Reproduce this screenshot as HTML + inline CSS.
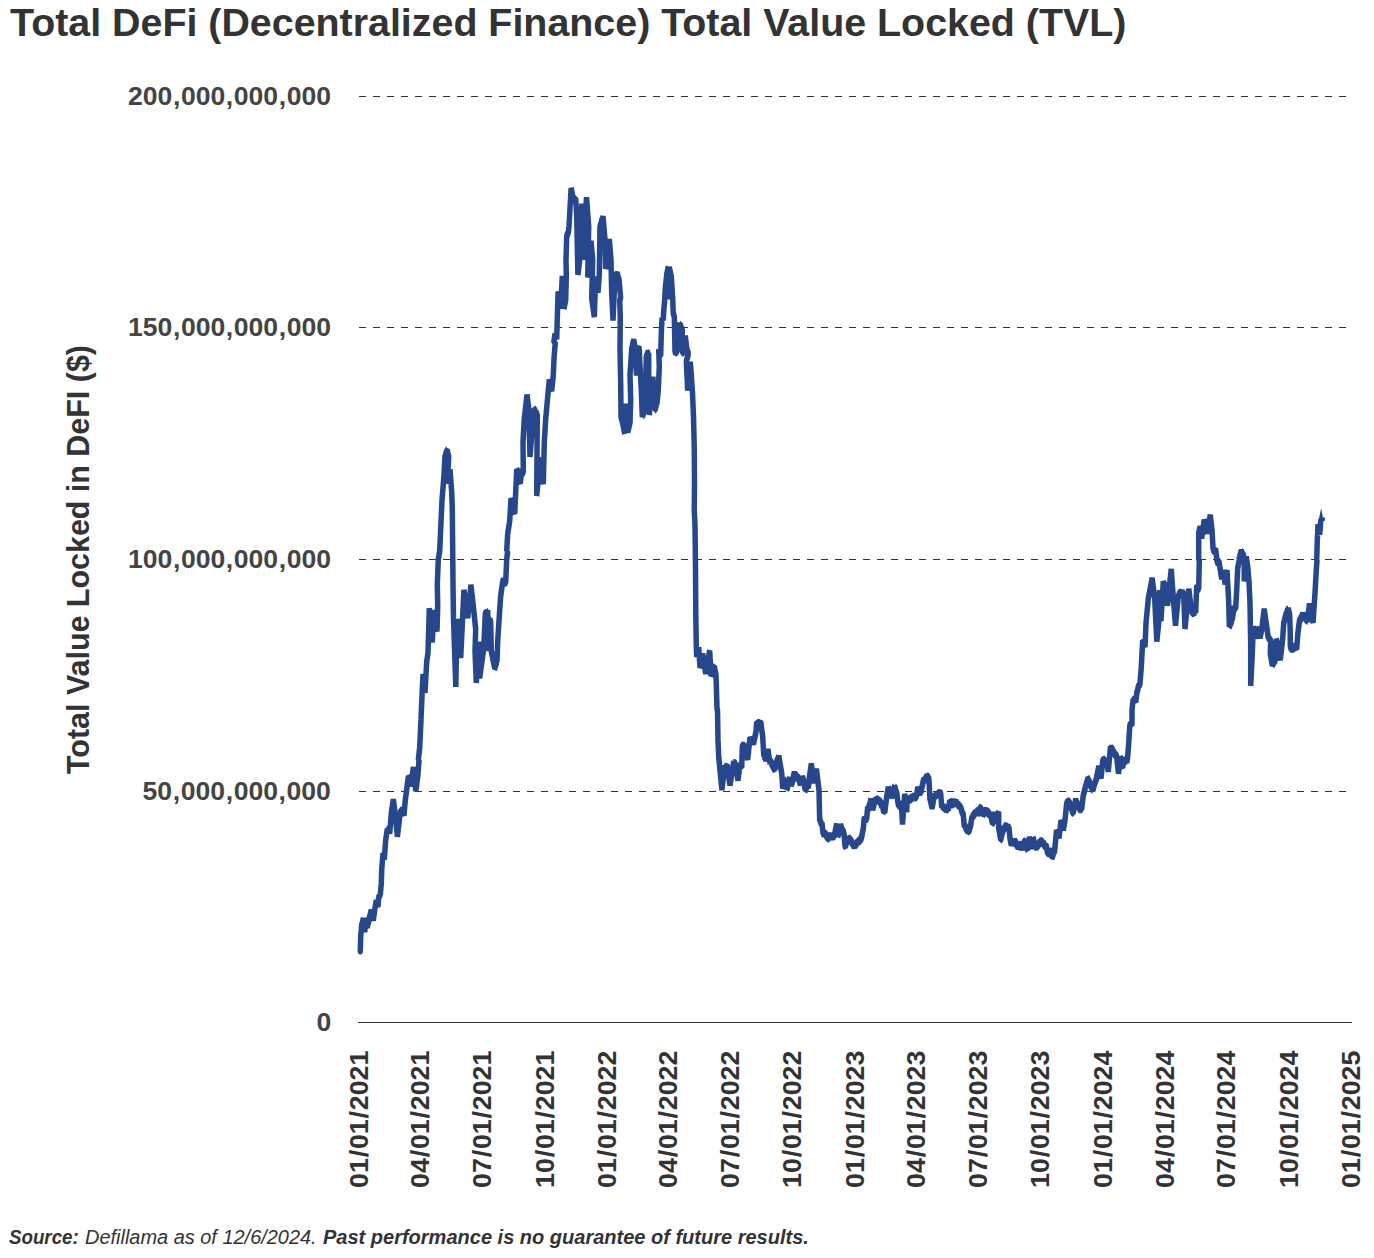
<!DOCTYPE html>
<html><head><meta charset="utf-8">
<style>
html,body{margin:0;padding:0;background:#fff;}
body{width:1374px;height:1258px;position:relative;overflow:hidden;font-family:"Liberation Sans",sans-serif;}
.t{position:absolute;white-space:nowrap;line-height:1;}
#title{left:9.5px;top:2.5px;font-size:39px;font-weight:bold;color:#333;transform-origin:0 0;transform:scaleX(1.0095);}
.c{margin:0 0.6px;}
.yl{font-size:25.5px;font-weight:bold;color:#444;right:1042.8px;transform-origin:100% 50%;transform:scaleX(1.041);}
.s{margin:0 0.8px;}
.xl{font-size:25.5px;font-weight:bold;color:#333;transform-origin:0 0;}
#ytitle{font-size:32px;font-weight:bold;color:#333;transform-origin:0 0;}
.src{top:1227.5px;font-size:19.5px;font-style:italic;color:#333;transform-origin:0 0;}
svg{position:absolute;left:0;top:0;}
</style></head><body>
<div class="t" id="title">Total DeFi (Decentralized Finance) Total Value Locked (TVL)</div>
<div class="t yl" style="top:84.4px">200<span class="c">,</span>000<span class="c">,</span>000<span class="c">,</span>000</div>
<div class="t yl" style="top:315.4px">150<span class="c">,</span>000<span class="c">,</span>000<span class="c">,</span>000</div>
<div class="t yl" style="top:547.4px">100<span class="c">,</span>000<span class="c">,</span>000<span class="c">,</span>000</div>
<div class="t yl" style="top:779.4px">50<span class="c">,</span>000<span class="c">,</span>000<span class="c">,</span>000</div>
<div class="t yl" style="top:1010.4px">0</div>
<div class="t xl" style="left:347.1px;top:1188.2px;transform:rotate(-90deg) scaleX(1.05)">01<span class="s">/</span>01<span class="s">/</span>2021</div>
<div class="t xl" style="left:408.2px;top:1188.2px;transform:rotate(-90deg) scaleX(1.05)">04<span class="s">/</span>01<span class="s">/</span>2021</div>
<div class="t xl" style="left:470.0px;top:1188.2px;transform:rotate(-90deg) scaleX(1.05)">07<span class="s">/</span>01<span class="s">/</span>2021</div>
<div class="t xl" style="left:532.5px;top:1188.2px;transform:rotate(-90deg) scaleX(1.05)">10<span class="s">/</span>01<span class="s">/</span>2021</div>
<div class="t xl" style="left:595.0px;top:1188.2px;transform:rotate(-90deg) scaleX(1.05)">01<span class="s">/</span>01<span class="s">/</span>2022</div>
<div class="t xl" style="left:656.1px;top:1188.2px;transform:rotate(-90deg) scaleX(1.05)">04<span class="s">/</span>01<span class="s">/</span>2022</div>
<div class="t xl" style="left:717.9px;top:1188.2px;transform:rotate(-90deg) scaleX(1.05)">07<span class="s">/</span>01<span class="s">/</span>2022</div>
<div class="t xl" style="left:780.3px;top:1188.2px;transform:rotate(-90deg) scaleX(1.05)">10<span class="s">/</span>01<span class="s">/</span>2022</div>
<div class="t xl" style="left:842.8px;top:1188.2px;transform:rotate(-90deg) scaleX(1.05)">01<span class="s">/</span>01<span class="s">/</span>2023</div>
<div class="t xl" style="left:903.9px;top:1188.2px;transform:rotate(-90deg) scaleX(1.05)">04<span class="s">/</span>01<span class="s">/</span>2023</div>
<div class="t xl" style="left:965.7px;top:1188.2px;transform:rotate(-90deg) scaleX(1.05)">07<span class="s">/</span>01<span class="s">/</span>2023</div>
<div class="t xl" style="left:1028.2px;top:1188.2px;transform:rotate(-90deg) scaleX(1.05)">10<span class="s">/</span>01<span class="s">/</span>2023</div>
<div class="t xl" style="left:1090.7px;top:1188.2px;transform:rotate(-90deg) scaleX(1.05)">01<span class="s">/</span>01<span class="s">/</span>2024</div>
<div class="t xl" style="left:1152.5px;top:1188.2px;transform:rotate(-90deg) scaleX(1.05)">04<span class="s">/</span>01<span class="s">/</span>2024</div>
<div class="t xl" style="left:1214.2px;top:1188.2px;transform:rotate(-90deg) scaleX(1.05)">07<span class="s">/</span>01<span class="s">/</span>2024</div>
<div class="t xl" style="left:1276.7px;top:1188.2px;transform:rotate(-90deg) scaleX(1.05)">10<span class="s">/</span>01<span class="s">/</span>2024</div>
<div class="t xl" style="left:1339.2px;top:1188.2px;transform:rotate(-90deg) scaleX(1.05)">01<span class="s">/</span>01<span class="s">/</span>2025</div>
<div class="t" id="ytitle" style="left:62px;top:774px;transform:rotate(-90deg) scaleX(0.951)">Total Value Locked in DeFI ($)</div>
<div class="t src" style="left:9px;transform:scaleX(0.96);font-weight:bold">Source:</div>
<div class="t src" style="left:84.5px;transform:scaleX(1.0225)">Defillama as of 12/6/2024.</div>
<div class="t src" style="left:323px;transform:scaleX(1.026);font-weight:bold">Past performance is no guarantee of future results.</div>
<svg width="1374" height="1258" viewBox="0 0 1374 1258">
<line x1="359" y1="96.5" x2="1352" y2="96.5" stroke="#333" stroke-width="1" stroke-dasharray="7 7" shape-rendering="crispEdges"/>
<line x1="359" y1="327.5" x2="1352" y2="327.5" stroke="#333" stroke-width="1" stroke-dasharray="7 7" shape-rendering="crispEdges"/>
<line x1="359" y1="559.5" x2="1352" y2="559.5" stroke="#333" stroke-width="1" stroke-dasharray="7 7" shape-rendering="crispEdges"/>
<line x1="359" y1="791.5" x2="1352" y2="791.5" stroke="#333" stroke-width="1" stroke-dasharray="7 7" shape-rendering="crispEdges"/>
<line x1="358" y1="1022.5" x2="1352" y2="1022.5" stroke="#333" stroke-width="1" shape-rendering="crispEdges"/>
<g transform="scale(1,1.65)"><path d="M360.3,575.76 360.7,567.7 361.7,560.61 361.9,560.12 362.1,559.76 362.3,559.58 362.5,559.09 362.7,558.61 362.9,558.18 363.1,557.45 363.3,557.09 364.7,564.67 366.3,556.55 367.3,561.64 371.2,552 373.3,557.58 374.7,551.52 376.3,545.94 376.5,546.36 376.7,546.91 376.9,547.52 377.1,547.64 377.4,547.94 377.6,548.12 377.8,548.91 378,549.52 378.7,543.94 379,543.58 379.2,542.67 379.5,542.79 379.7,542.73 380,542.3 380.2,541.88 380.5,540.91 381.3,535.33 381.7,527.27 383,517.15 384.3,520.73 385.7,509.09 387.3,502.55 387.7,503.09 388.1,502.85 388.5,503.39 388.9,503.33 389.3,503.52 389.7,505.03 391.3,492.91 393.3,484.67 394.7,490.91 397.4,506.85 400,493.45 400.8,491.7 401.6,491.58 402.4,492.06 403.2,492.42 404,493.94 405.3,484.85 408.4,470.73 408.6,470.97 408.9,471.45 409.1,472 409.3,472.42 409.6,472.97 409.8,473.27 410.1,473.52 410.3,474.36 410.5,475.15 410.8,475.7 411,475.27 413.4,465.15 415.8,479.27 418,469.21 419,460.61 418.3,460.61 419.7,453.15 421,435.94 422,421.82 423,408.67 425,419.82 426.7,401.09 428,395.58 429.3,368.79 432.3,389.27 433.7,369.82 437,382.61 437.7,367.27 437.3,354.12 438.3,338.97 439.7,333.94 439.7,333.94 440.7,320.42 442,303.21 444,288.06 445,275.94 445.3,276.67 445.6,275.82 445.9,274.91 446.3,274.24 446.6,273.39 446.9,273.39 447.2,273.15 448.7,276.97 447.3,293.15 450,284.55 451.7,298.18 452.3,308.3 452.7,333.94 452.7,333.94 453,354.12 453.5,374.36 454.7,396.55 455.8,416.24 457,375.33 460.7,398.61 463.9,357.7 467.7,374.36 470.9,354.67 473.3,367.27 475.7,381.39 475,394.55 476.3,413.76 478.7,388.97 479.7,410.73 483.7,393.03 485.3,372.12 485.7,371.45 486.1,371.64 486.5,371.03 486.9,371.27 487.3,371.27 487.7,369.82 488.2,394.55 489,375.88 489.6,376.36 490.1,376.06 490.7,376.85 491.3,394.55 494.7,404.67 494.9,404.48 495.2,404 495.4,403.94 495.6,403.33 495.9,402.48 496.1,402.24 496.3,402.06 496.5,401.39 496.8,400.67 497,400.61 497.7,388.48 499.3,373.33 500.7,361.21 502.7,352.61 503.4,351.58 504.2,352.79 504.9,353.27 505.7,352.61 506.7,338.97 507.7,333.94 506.7,333.94 507.7,323.45 509.7,315.88 511,302.24 514.7,311.33 515.7,298.18 516.7,284.55 516.9,284.85 517.1,285.15 517.3,285.33 517.5,285.58 517.6,286.36 517.8,286.61 518,287.21 518.2,287.64 518.4,287.94 518.6,288.61 518.8,288.79 519,289.39 519.2,289.64 519.4,290.06 519.5,290.42 519.7,290.79 519.9,291.64 520.1,292.3 520.3,292.61 521.7,285.03 522.2,285.27 522.8,286.36 523.3,286.06 523,267.88 524.3,253.76 527,239.39 528.7,247.7 530,276.79 533.8,248.18 534.3,248.48 534.8,248.73 535.3,249.7 535.8,250.24 536.3,249.76 536.8,251.03 537.3,250.73 536.7,300.42 540.3,277.45 543.3,293.33 544.3,267.88 545.7,253.76 547.7,240.61 549.3,230.3 551.7,236.79 553.3,227.45 554,217.39 555.3,207.27 554.5,207.7 553.7,208.06 555,202.55 555.2,202.79 555.5,203.52 555.7,203.76 556,204.06 556.2,204.18 556.5,204.36 556.7,205.58 557.3,192.91 558.1,176.79 560.7,186.85 562.3,167.39 564,186.85 565.7,181.64 566.3,167.7 566,157.58 566.7,143.64 567,142.61 567.2,142.06 567.5,141.94 567.8,141.52 568,141.15 568.3,141.21 569,137.39 571.1,114.12 573.3,120.79 574.1,120.91 574.9,120.73 575.7,120.42 576.7,130.3 577.9,166.48 579.7,157.58 581.9,123.45 583.3,157.39 586.5,119.7 588.7,137.39 587.7,168.18 591,146.24 592.7,157.58 591.7,180.79 594.3,191.94 595.7,167.7 598,177.27 599.3,166.67 600,137.39 600.2,137.09 600.4,136.91 600.6,136.18 600.8,135.45 601,135.39 601.2,135.21 601.4,134.55 601.6,133.88 601.8,133.64 602,133.58 602.2,132.85 602.4,132.73 602.6,132.48 602.8,132.06 603,131.09 605,145.45 605.6,162.85 609.3,145.03 611,157.58 611.7,177.76 613,194.12 615,167.7 615.5,168.18 615.9,166.97 616.4,165.88 616.8,166.55 617.3,166.06 617.5,166.36 617.7,167.03 617.9,167.27 618.1,168 618.4,168.48 618.6,168.79 618.8,168.97 619,169.7 620.7,180.79 620.2,181.21 619.7,181.82 620.3,191.94 620,212.12 620.7,232.3 621,252.55 622.7,256.55 624.7,262.61 625.7,244.67 627.7,261.64 630,256.06 630.7,242.42 630,227.27 631.7,211.64 633.7,206.06 635.3,211.33 636.5,227.45 638.3,211.33 638.8,210.73 639.3,211.94 640,222.24 641.3,236.36 642.3,252.73 642.5,251.82 642.7,251.58 642.9,251.52 643.1,251.21 643.3,250.61 643.5,250.55 643.8,249.88 644,249.09 644.2,248.55 644.4,248.24 644.6,247.58 644.8,247.09 645,247.45 646.3,216.67 646.7,214.97 647.1,214.97 647.5,214.3 647.9,213.94 648.3,214.42 648.7,214.36 648.7,230.3 649.3,251.33 652.9,228.48 654.7,248 655,247.88 655.2,247.52 655.5,247.21 655.7,246.79 656,245.94 656.2,245.09 656.5,244.3 656.7,244.42 657,244.24 658.3,236.36 659.3,222.24 658.7,211.64 658.9,212.06 659.1,212.85 659.4,212.79 659.6,213.33 659.8,213.7 660,214.3 660.3,214.55 660.5,215.33 660.7,215.33 661.3,202 662,193.15 662.6,193.39 663.3,193.76 663.8,187.88 664.7,181.82 664.7,181.82 665.3,174.73 666.7,166.67 668.3,161.82 668.3,181.33 669.3,162.24 671.3,167.7 672.8,181.82 672.8,181.82 673.2,189.88 673.6,190.42 673.9,191.15 674.3,191.39 675,212.91 675.5,213.52 675.9,213.33 676.4,213.03 676.8,212.91 677.3,211.09 679.7,195.76 680,197.33 680.4,197.33 680.7,197.76 681,198.48 681.3,198.97 681.6,198.97 682,199.58 682.3,198.97 682,211.09 682.7,213.45 683.3,213.52 684,212.12 685.3,203.64 686.7,211.09 686.9,212.18 687.2,212.36 687.4,212.79 687.6,213.21 687.8,213.21 688.1,213.76 688.3,214.12 688.1,214.91 687.9,215.52 687.8,215.94 687.6,216.18 687.4,216.67 687.2,217.03 687,217.27 686.8,217.88 686.7,217.94 686.5,218.48 686.3,218.67 687.7,236.55 690.3,219.39 691.3,227.27 692.5,238.36 693.5,252.55 694.3,272.73 694.5,292.91 694.3,308.48 694.2,308.48 695,318.18 695.5,343.45 695.8,373.76 696.3,391.94 696.7,398 698.7,392.42 700,404.55 702.7,396.48 705.7,408.06 709.7,394.42 711,409.58 711.3,408.97 711.5,408.67 711.8,408.3 712,407.64 712.3,407.45 712.5,407.09 712.8,406.79 713,406.73 713.3,406 713.5,405.09 713.8,404.61 714,404.42 714.3,404.24 716,409.09 717,429.7 717.5,430.3 718,448.48 718.7,458.61 720,466.67 721.9,478.61 724.3,466.67 724.6,465.7 725,465.03 725.3,465.33 725.6,465.21 726,464.73 726.3,464.85 726.7,464.18 727,463.64 730,475.76 733.7,461.82 734.1,462.61 734.5,462.48 734.9,462.79 735.3,463.7 735.7,463.82 738,472.73 740,462.61 740.3,463.58 740.6,464.3 740.9,464.42 741.1,464.79 741.4,464.91 741.7,465.15 742.3,452.73 742.8,452.06 743.3,451.82 743.8,452.24 744.3,451.52 747.7,460.12 750,446.97 750.4,448 750.7,448.55 751,449.33 751.4,449.15 751.8,448.91 752.1,449.21 752.5,449.27 752.8,449.39 753.1,449.76 753.5,450.73 756,443.45 756.7,437.88 757,438.06 757.3,438.55 757.6,438.85 757.8,439.7 758.1,440.61 758.4,440.85 758.7,440.91 759,440.36 759.2,439.52 759.5,439.52 759.7,438.73 760,438.55 760.2,438.18 760.5,437.64 760.7,437.39 762.7,446.48 763.7,457.09 763.9,457.64 764.1,457.64 764.4,457.88 764.6,458.42 764.8,458.61 765,459.45 765.3,459.76 765.5,460 765.7,461.09 767.9,454.36 770,462.61 770.5,461.03 771,462 771.5,462.42 772,463.33 772.7,463.88 773.3,464.73 774,465.76 774.6,466.06 775.3,464.85 775.5,464.67 775.7,464.18 776,463.45 776.2,462.67 776.4,462.36 776.6,462.24 776.8,461.64 777,461.09 777.3,460.67 777.5,460.55 777.7,460.24 777.9,459.94 778.1,459.76 778.4,459.21 778.6,459.03 778.8,458.36 781.7,468.67 782.7,477.76 784.7,472.24 784.9,473.15 785.1,473.15 785.3,473.88 785.5,474.36 785.7,474.36 785.9,474.73 786.1,475.21 786.3,475.94 786.5,476.18 786.7,476.55 786.9,477.21 787.1,477.76 787.3,477.58 789.7,471.52 790,472.97 790.3,473.09 790.6,473.52 790.9,473.39 791.1,474 791.4,474.61 791.7,475.03 792,474.73 794.3,468.18 794.9,469.94 795.4,469.33 796,470.3 796.6,471.27 797.1,471.64 797.7,469.88 797.9,470.97 798.1,471.45 798.4,471.52 798.6,472.18 798.8,472.73 799,472.85 799.2,472.79 799.4,473.09 799.6,473.58 799.9,474.18 800.1,474.48 800.3,474.73 800.7,473.88 801.2,474.12 801.6,473.09 802,473.33 802.4,472.42 802.9,471.94 803.3,472.24 805.3,478.61 805.9,478.24 806.5,477.27 807.1,476.48 807.7,476.55 808.3,477.27 809.7,469.7 811.3,463.15 814,474.24 816.4,466.18 819,478.79 819.7,497.45 820.3,497.52 820.9,498.61 821.4,499.21 822,498.97 822.7,503.52 823.2,505.09 823.6,505.15 824.1,506 824.5,505.33 825,505.09 825.4,505.52 825.9,505.52 826.3,506.36 826.8,506.91 827.2,507.21 827.7,508.06 828.4,507.94 829,507.15 829.7,506.67 830.4,507.15 831,507.64 831.7,506.42 832.4,506.85 833,507.27 833.7,506.61 834.3,506.12 835,504.55 836.7,499.52 838,506.55 838.2,506.24 838.4,505.82 838.6,505.33 838.8,504.97 839,504.18 839.2,504.12 839.4,503.64 839.5,503.15 839.7,502.91 839.9,502.42 840.1,501.94 840.3,501.64 840.5,500.85 840.7,500.48 841,500.85 841.3,501.21 841.6,502.12 841.8,502.91 842.1,502.97 842.4,503.27 842.7,503.52 843,503.76 843.4,504.12 843.7,504.97 844,505.27 845,512.61 845.4,512.91 845.7,512.3 846.1,511.58 846.5,510.73 846.8,510.61 847.2,510.79 847.6,509.76 847.9,509.76 848.3,509.09 849,508.79 849.6,508.61 850.3,508.55 851,510.3 851.4,510.18 851.7,510.42 852.1,510.73 852.5,511.39 852.8,511.33 853.2,512.18 853.6,512.12 853.9,512.67 854.3,513.64 854.8,512.24 855.3,511.58 855.8,511.64 856.3,511.45 856.8,511.09 857.3,510.85 857.8,510.79 858.3,511.09 858.6,509.94 859,509.33 859.3,509.33 859.7,509.21 860,508.91 860.3,508.97 860.7,508.67 861,508.61 861.4,507.7 861.7,507.09 863.3,502 864.3,495.45 865.1,496.36 865.9,496.91 866.7,495.76 867.7,489.09 868.2,490.36 868.8,489.33 869.3,488.06 869.5,487.82 869.7,487.64 869.9,486.97 870.1,486.85 870.2,486.67 870.4,485.82 870.6,485.15 870.8,484.91 871,484.36 872.7,490.42 872.9,489.94 873.1,489.27 873.3,489.15 873.5,488.67 873.7,488.42 873.9,487.76 874,487.27 874.2,487.03 874.4,486.24 874.6,485.7 874.8,485.52 875,485.33 875.7,485.39 876.3,486.12 877,484.91 877.6,484.67 878.3,484.36 878.6,485.09 878.9,485.45 879.2,486 879.5,486 879.8,485.94 880.2,486 880.5,486.12 880.8,486.85 881.1,487.45 881.4,488.12 881.7,488.91 882,488.55 882.4,488.67 882.7,488.91 883,490 883.4,491.09 883.7,491.94 884,491.7 884.4,491.52 884.7,492.42 886.7,482.85 888.3,477.27 888.5,477.82 888.8,478.12 889,478.79 889.3,478.91 889.5,479.27 889.8,479.7 890,480 890.2,480.55 890.5,480.42 890.7,481.15 891,481.88 891.2,481.94 891.5,482.3 891.7,482.85 891.9,482.55 892.1,482 892.3,481.39 892.5,480.79 892.6,480.48 892.8,479.76 893,479.76 893.2,479.64 893.4,479.33 893.6,479.15 893.8,478.73 894,478.12 894.1,477.76 894.3,477.27 894.5,477.15 894.7,476.24 894.9,477.39 895.1,477.45 895.4,478.12 895.6,478.61 895.8,479.09 896,479.58 896.3,479.76 896.5,480.36 896.7,480 897.7,485.64 898.5,487.82 899.2,487.94 900,486.06 901.7,490.91 902.5,499.52 904.7,481.33 906.7,492.12 907.3,482.61 908,484.85 908.6,485.09 909.3,484.67 910,484.73 910.7,483.94 911.4,483.7 912.1,483.82 912.8,483.03 913.5,483.09 914.2,484.42 914.6,483.64 914.9,483.52 915.3,482.85 915.6,483.15 916,482.97 916.3,482.3 916.7,481.82 917.7,477.27 918,477.94 918.4,478.42 918.7,478.79 919,479.03 919.4,480 919.7,479.82 920.1,480.18 920.5,479.88 920.9,479.64 921.3,479.52 921.7,477.76 923.7,472.24 924.3,472.55 924.9,472.36 925.5,472.36 926.1,471.33 926.7,470.73 927.1,471.15 927.5,470.85 927.9,470.91 928.2,471.27 928.6,471.27 929,472.91 930,484.85 930.2,484.42 930.5,485.39 930.7,485.88 930.9,486.36 931.1,487.15 931.4,487.58 931.6,488.36 931.8,488.73 932.1,489.27 932.3,488.91 934.3,482 935,482.36 935.7,482.24 936.3,482.42 937,481.09 937.7,481.64 938.5,480.91 939.2,480.91 940,480.24 940.7,481.03 941.7,488.91 942.4,488.55 943,489.15 943.6,488.55 944.3,489.94 945.1,489.88 945.9,490.06 946.7,490.36 947.5,490.18 948.3,490.42 949.7,485.88 950,486.06 950.3,486.67 950.6,487.21 950.8,487.39 951.1,488.12 951.4,488.3 951.7,488.91 952.2,487.58 952.6,486.97 953.1,486.18 953.5,485.82 954,486.24 954.4,485.88 954.9,486.36 955.3,486.36 955.8,485.21 956.3,486.48 956.8,487.52 957.3,486.79 957.8,487.82 958.2,487.82 958.7,488 959.2,489.09 959.7,488.67 960.2,488.97 960.7,488.91 960.9,489.82 961.1,490.3 961.4,490.55 961.6,491.27 961.8,491.82 962,492.12 962.2,492.06 962.4,492.55 962.6,492.85 962.9,493.03 963.1,493.09 963.3,493.94 964.3,501.03 964.7,500.79 965.1,500.73 965.5,501.21 965.9,502 966.3,502.42 966.7,502.48 967.1,503.15 967.5,503.45 967.9,504.24 968.2,503.88 968.5,503.45 968.7,503.52 969,503.45 969.3,503.03 969.6,502.18 969.9,501.27 970.1,501.21 970.4,500.97 970.7,500 972,494.97 972.4,495.52 972.9,494.73 973.3,493.88 973.8,493.82 974.2,493.52 974.7,493.21 975.1,492.97 975.6,492.91 976,491.7 976.8,492 977.5,491.64 978.3,492.12 978.6,492.18 979,492.24 979.3,492.18 979.6,490.97 980,489.94 980.3,489.88 980.5,489.88 980.8,490.3 981,490.91 981.3,491.03 981.5,491.58 981.7,491.64 982,491.82 982.2,492.61 982.5,493.15 982.7,493.94 983.3,493.27 983.8,492.79 984.4,492.55 984.9,491.76 985.5,491.33 986,491.7 986.6,492.06 987.1,491.64 987.6,491.45 988.1,492.55 988.6,493.15 989,494 989.5,493.76 990,494 990.5,494 991,494.97 991.2,495.39 991.4,495.76 991.6,496.3 991.8,497.03 991.9,497.27 992.1,497.7 992.3,498.24 992.5,498.91 992.7,498.79 994.3,492.42 996,498.79 998.7,491.94 998.7,502 1000.7,508.61 1000.9,508.55 1001.1,507.94 1001.3,507.21 1001.5,507.03 1001.7,506.3 1001.9,505.58 1002.1,505.33 1002.3,504.91 1002.5,504.67 1002.7,504.12 1002.9,503.94 1003.1,503.21 1003.3,503.03 1004,501.64 1004.7,501.94 1005.3,500.97 1006,500.61 1006.7,501.27 1007.5,501.76 1008.2,501.39 1009,502 1010,508.06 1011.3,511.94 1011.9,510.61 1012.5,510.36 1013.1,510.85 1013.8,510.48 1014.4,509.64 1015,510.24 1015.7,510.55 1016.4,511.58 1017.1,512.42 1017.9,513.09 1018.6,512.61 1019.3,512.73 1019.9,512.55 1020.4,512.3 1021,512.3 1021.6,513.45 1022.1,514.36 1022.7,513.15 1023,513.03 1023.3,512.42 1023.6,511.82 1023.8,511.27 1024.1,510.73 1024.4,510.24 1024.7,510.12 1025,510.06 1025.2,510.61 1025.5,511.39 1025.7,511.88 1026,512.55 1026.2,512.97 1026.5,513.03 1026.7,513.7 1027,514.42 1027.2,514.48 1027.5,514.73 1029.3,507.7 1031.7,513.94 1033.3,508.48 1033.5,508.67 1033.7,509.15 1033.9,509.64 1034.1,510.12 1034.3,510.91 1034.5,511.39 1034.8,511.94 1035,511.94 1035.2,512.36 1035.4,512.97 1035.6,513.03 1035.8,513.15 1036,513.94 1036.5,513.33 1036.9,513.64 1037.4,512.48 1037.8,512.42 1038.3,511.52 1038.7,511.64 1039.2,511.52 1039.6,510.73 1040.1,509.94 1040.5,510.18 1041,509.88 1041.6,510.12 1042.2,510.97 1042.9,510.91 1043.5,510.79 1044.1,512.12 1044.8,512.55 1045.4,512.61 1046,512.12 1047.7,516.97 1048.1,516.97 1048.5,516.73 1048.8,516.42 1049.2,516.3 1049.6,515.52 1050,514.36 1050.2,515.33 1050.4,515.82 1050.6,516.36 1050.8,516.79 1051,517.21 1051.2,517.7 1051.4,518.12 1051.6,518.48 1051.8,518.79 1052,518.67 1052.3,519.15 1052.6,518.91 1052.9,518.24 1053.2,517.58 1053.5,516.67 1053.8,516.55 1054.1,516.67 1054.4,516 1054.7,515.15 1056.5,503.52 1056.8,503.94 1057,504.12 1057.2,504.55 1057.5,504.85 1057.8,505.82 1058,505.82 1058.2,506.18 1058.5,506.36 1058.8,507.03 1059,507.88 1061,497.45 1061.2,497.82 1061.4,498.06 1061.5,498.18 1061.7,498.73 1061.9,499.27 1062.1,500 1062.2,500.12 1062.4,500.3 1062.6,500.61 1062.8,500.97 1062.9,501.33 1063.1,502.06 1063.3,502.85 1065,497.15 1066.7,486.85 1067.4,486.36 1068,486.18 1068.7,486.06 1069.3,486.18 1070,488.06 1070.3,487.39 1070.6,488.3 1070.9,488.61 1071.2,489.21 1071.5,490.06 1071.8,490.42 1072.1,490.55 1072.4,491.45 1072.7,492.24 1073,492.36 1073.3,492.42 1075.7,484.36 1075.9,485.03 1076.2,485.76 1076.4,486.06 1076.6,486.12 1076.9,486.12 1077.1,486.97 1077.4,487.64 1077.6,487.88 1077.8,488.24 1078.1,488.67 1078.3,488.91 1079,488.97 1079.7,490.24 1080.3,490.61 1081,490.12 1081.7,490.12 1083.3,482 1083.5,481.33 1083.7,480.97 1083.8,480.48 1084,480.36 1084.2,480.06 1084.4,479.7 1084.6,479.03 1084.8,478.42 1085,477.94 1085.1,477.45 1085.3,477.39 1085.5,476.97 1085.7,476.67 1085.9,476.61 1086,475.94 1086.2,475.52 1086.4,474.85 1086.6,474.67 1086.8,473.88 1087,473.76 1087.2,473.58 1087.3,473.33 1087.5,472.55 1087.7,472.12 1088,472.3 1088.3,473.03 1088.7,472.91 1089,473.39 1089.3,473.82 1089.6,474.85 1089.9,475.27 1090.2,476 1090.6,476.06 1090.9,476.73 1091.2,476.91 1091.5,477.76 1091.8,477.52 1092.2,478.24 1092.5,478.24 1092.8,478.61 1093,478.24 1093.3,477.88 1093.5,477.15 1093.7,477.09 1093.9,476.48 1094.2,475.94 1094.4,475.21 1094.6,474.73 1094.9,474.42 1095.1,474.36 1095.3,473.88 1095.5,473.7 1095.8,472.91 1096,472.91 1098.8,464.67 1101,471.52 1102.7,461.39 1103.5,460.55 1104.3,460.79 1105.1,462 1105.9,462.67 1106.7,461.82 1108.3,467.45 1110.5,452.55 1110.9,453.64 1111.3,453.21 1111.6,453.52 1112,454.24 1112.4,454.24 1112.8,454.79 1113.2,455.15 1113.5,454.97 1113.9,456.18 1114.3,456.55 1114.7,457.39 1115.1,457.21 1115.5,457.82 1115.9,457.82 1116.3,458.06 1116.7,458.79 1118.5,468.67 1120.3,459.09 1120.5,459.39 1120.7,459.76 1120.9,460.12 1121,460.55 1121.2,461.15 1121.4,461.39 1121.6,461.7 1121.8,462.36 1122,462.73 1122.1,463.52 1122.3,463.94 1122.5,464.48 1122.7,464.67 1124.3,459.82 1124.8,460.42 1125.3,461.27 1125.7,460.91 1126.2,460.79 1126.7,461.82 1127.5,459.58 1128.7,450.48 1129.7,440.42 1130.5,438.61 1131.2,439.03 1132,439.58 1132,430.3 1133,424.42 1133.7,424.42 1134.3,424.06 1135,424.24 1135.7,425.27 1137,419.39 1137.2,418.97 1137.5,418.67 1137.8,417.82 1138,417.21 1138.2,416.61 1138.5,416 1138.8,415.7 1139,415.15 1139.2,415.27 1139.5,414.91 1139.8,414.55 1140,414.36 1141.3,404.06 1142.7,388.06 1142.9,388.42 1143.2,389.09 1143.4,389.7 1143.6,389.94 1143.8,390.12 1144.1,390.42 1144.3,390.42 1144.5,390.85 1144.8,391.52 1145,392.12 1146,377.76 1148.3,362.85 1152.2,350.48 1154.7,362.85 1156.8,388.67 1158.7,377.76 1159.7,357.76 1161,376.24 1163.3,352.55 1163.6,353.33 1163.9,354 1164.2,354.48 1164.5,354.91 1164.8,354.73 1165.1,354.97 1165.4,355.27 1165.7,356.06 1167.5,366.85 1171.2,344.97 1173.7,365.64 1175.5,378.97 1178.3,361.39 1178.9,360.91 1179.4,359.82 1180,359.45 1180.6,359.33 1181.1,359.7 1181.7,359.94 1182.4,360.3 1183,359.58 1183.7,359.82 1185,381.03 1188.8,357.09 1191.3,369.7 1191.9,370.36 1192.6,371.33 1193.2,371.39 1193.8,371.03 1194.4,371.15 1195.1,370.55 1195.7,371.21 1196.7,355.03 1197.2,355.52 1197.7,356.67 1198.2,356.85 1198.7,356.55 1199.3,339.39 1198.7,339.39 1198.7,323.21 1200,319.39 1201.7,326.06 1204.2,315.33 1207.2,322.85 1210.3,312.3 1212,321.21 1213,332.12 1213.7,333.52 1214.3,334.18 1215,333.52 1215.7,333.15 1217,340.18 1217,339.39 1217.4,340.73 1217.8,341.09 1218.2,340.79 1218.5,340.55 1218.9,340.61 1219.3,341.64 1221.7,350.73 1221.9,350.06 1222.1,349.82 1222.3,349.27 1222.5,349.21 1222.7,348.61 1223,348.12 1223.2,347.39 1223.4,347.39 1223.6,346.67 1223.8,346.55 1224,345.94 1225,354.06 1227,345.64 1228.7,364.67 1229.3,379.58 1229.5,379.39 1229.8,378.97 1230,378.55 1230.3,377.88 1230.5,377.82 1230.8,377.76 1231,377.52 1231.2,376.97 1231.5,376.06 1231.7,375.88 1232,375.21 1232.2,375.09 1232.5,374.3 1232.7,373.76 1234,367.88 1234.8,368.61 1235.7,368.48 1236.7,357.58 1237.7,344.42 1239.3,339.39 1239.2,337.39 1239.6,337.7 1239.9,336.73 1240.3,336.36 1240.6,335.39 1241,334.55 1241.3,333.94 1241.7,334.73 1242.1,334.85 1242.4,335.88 1242.8,336.36 1243.2,336.36 1243.6,336.97 1243.9,337.58 1244.3,337.39 1244.2,352.3 1246.3,337.58 1247.7,343.45 1249,352.55 1250,365.64 1250.7,389.88 1250.7,415.64 1252.3,395.94 1253.3,380 1255.7,386.67 1257,380.3 1257.2,380.91 1257.4,381.39 1257.6,382 1257.9,381.94 1258.1,382.18 1258.3,382.67 1258.5,382.85 1258.7,383.33 1258.9,383.88 1259.1,384.12 1259.4,384.73 1259.6,385.03 1259.8,385.64 1260,386.36 1261.7,381.82 1264.2,369.21 1266.7,379.82 1268.3,386.67 1268.7,386.42 1269.1,387.15 1269.5,386.97 1269.9,387.82 1270.3,387.82 1270.7,389.09 1270.3,395.94 1272.3,403.03 1272.6,402.61 1273,402.36 1273.3,401.94 1273.7,401.45 1274,401.21 1274.3,401.09 1274.7,400.97 1275,400 1276.3,387.39 1280.3,399.82 1282.7,386.85 1283.8,376.97 1284,376.97 1284.2,376.42 1284.3,376.3 1284.5,376 1284.7,375.58 1284.9,374.91 1285.1,374.36 1285.3,373.94 1285.5,373.7 1285.6,373.21 1285.8,372.73 1286,371.94 1286.3,371.88 1286.7,371.82 1287,371.03 1287.3,370 1287.6,369.88 1288,369.88 1288.3,368.91 1289.7,372.91 1290.2,382.85 1290.3,391.39 1290.9,392.85 1291.6,392.97 1292.2,393.45 1292.9,392.91 1293.5,393.15 1294.1,392.3 1294.8,391.82 1295.4,392.12 1296.1,392.55 1296.7,393.45 1297.7,384.85 1299.3,376.97 1299.7,376.12 1300,375.21 1300.4,375.33 1300.7,375.09 1301.1,374.42 1301.5,373.88 1301.8,373.58 1302.2,372.97 1302.6,372.18 1302.9,372.67 1303.3,372.97 1303.6,372.73 1304,371.94 1304.3,373.03 1304.6,373.21 1304.9,373.88 1305.2,373.82 1305.5,374.48 1305.8,374.85 1306.1,375.64 1306.4,375.45 1306.7,376.12 1307,376.06 1307.3,376.55 1309.5,366.06 1313,377.27 1315,359.58 1316.3,345.45 1317,339.39 1316.7,339.39 1317.3,327.27 1318,318 1319.7,323.76 1320.7,316.36" fill="none" stroke="#27478d" stroke-width="5.5" stroke-linejoin="bevel" stroke-linecap="round"/></g>
<path d="M1318.3,522 L1321.1,508.3 L1323,517.4 L1325,517.6 L1324.7,521 L1322.9,521 L1322.9,527 L1318.3,527 Z" fill="#27478d"/>
</svg>
</body></html>
